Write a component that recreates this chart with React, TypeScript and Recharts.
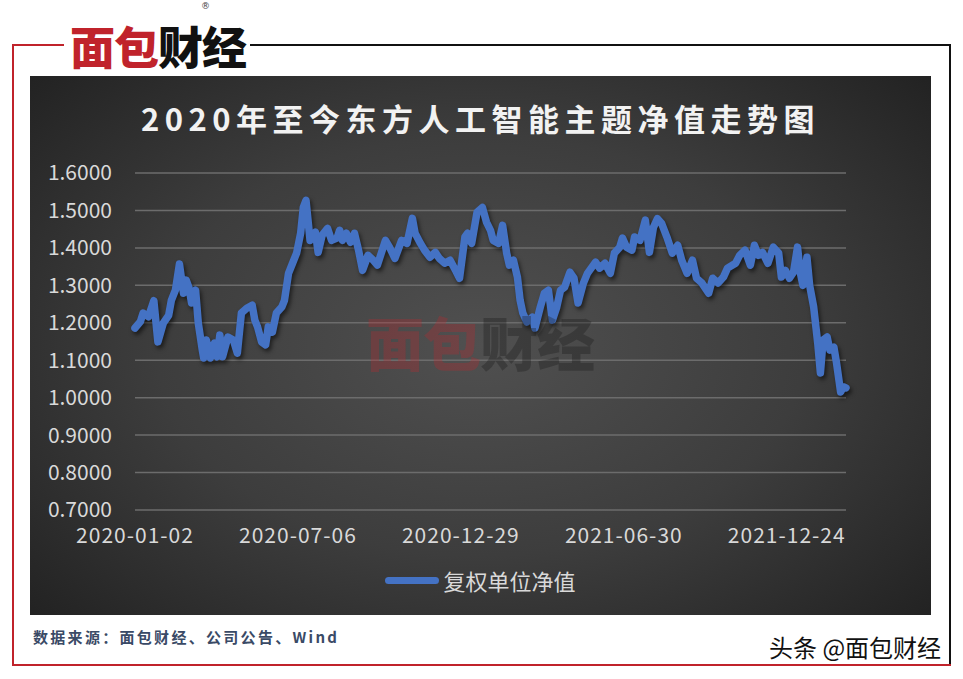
import React from 'react';
import { LineChart, Line, XAxis, YAxis, CartesianGrid, Legend } from 'recharts';

// trading-day index since 2020-01-02
const dayIndex = [
  0, 4, 6, 10, 14, 17, 21, 25, 27, 30, 33, 36, 38, 40, 42, 45, 47, 50, 51, 53,
  56, 59, 61, 63, 65, 69, 73, 76, 79, 83, 87, 89, 91, 94, 97, 99, 102, 105, 109, 111,
  114, 117, 120, 123, 125, 127, 130, 134, 136, 139, 143, 146, 150, 152, 154, 157, 160, 163, 166, 169,
  173, 177, 180, 186, 189, 193, 198, 202, 206, 208, 212, 215, 219, 223, 226, 230, 234, 238, 241, 245,
  247, 250, 254, 258, 261, 264, 266, 270, 273, 276, 278, 281, 284, 286, 288, 291, 295, 297, 301, 304,
  307, 310, 313, 316, 319, 323, 326, 329, 333, 336, 342, 345, 349, 353, 356, 360, 362, 365, 369, 371,
  375, 379, 382, 385, 388, 391, 395, 399, 403, 406, 410, 414, 417, 421, 426, 429, 433, 437, 440, 446,
  449, 453, 457, 460, 463, 466, 470, 474, 478, 480, 483, 486, 489, 492, 494, 496, 499, 501, 504, 507,
  509, 511, 514, 516, 519, 521, 524, 526, 528,
];

// 复权单位净值
const navValues = [
  1.186, 1.203, 1.226, 1.216, 1.259, 1.149, 1.199, 1.22, 1.26, 1.287, 1.357, 1.279, 1.314, 1.295, 1.253, 1.287, 1.199, 1.127, 1.106, 1.154,
  1.106, 1.146, 1.109, 1.167, 1.109, 1.162, 1.154, 1.119, 1.226, 1.239, 1.247, 1.207, 1.189, 1.149, 1.141, 1.189, 1.175, 1.226, 1.242, 1.26,
  1.332, 1.359, 1.386, 1.439, 1.508, 1.527, 1.42, 1.442, 1.388, 1.434, 1.452, 1.42, 1.426, 1.447, 1.42, 1.439, 1.415, 1.439, 1.394, 1.34,
  1.38, 1.367, 1.354, 1.42, 1.402, 1.372, 1.42, 1.412, 1.479, 1.439, 1.412, 1.394, 1.375, 1.388, 1.372, 1.359, 1.367, 1.34, 1.319, 1.429,
  1.439, 1.412, 1.495, 1.508, 1.469, 1.447, 1.42, 1.412, 1.46, 1.386, 1.354, 1.367, 1.322, 1.26, 1.226, 1.202, 1.215, 1.186, 1.242, 1.279,
  1.287, 1.207, 1.239, 1.287, 1.295, 1.335, 1.319, 1.253, 1.306, 1.332, 1.362, 1.346, 1.359, 1.332, 1.386, 1.402, 1.426, 1.402, 1.394, 1.429,
  1.42, 1.474, 1.388, 1.455, 1.478, 1.466, 1.429, 1.386, 1.407, 1.367, 1.332, 1.367, 1.319, 1.306, 1.279, 1.319, 1.306, 1.322, 1.346, 1.359,
  1.38, 1.394, 1.354, 1.407, 1.38, 1.388, 1.359, 1.402, 1.386, 1.322, 1.34, 1.319, 1.335, 1.402, 1.335, 1.3, 1.375, 1.3, 1.242, 1.146,
  1.066, 1.154, 1.162, 1.127, 1.135, 1.092, 1.015, 1.029, 1.026,
];

const tickDays = [0, 121, 242, 363, 484];
const tickLabels = ['2020-01-02', '2020-07-06', '2020-12-29', '2021-06-30', '2021-12-24'];
const yTicks = [0.7, 0.8, 0.9, 1.0, 1.1, 1.2, 1.3, 1.4, 1.5, 1.6];

const seriesName = '复权单位净值';
const titleText = '2020年至今东方人工智能主题净值走势图';

const data = dayIndex.map((d, i) => ({ day: d, nav: navValues[i] }));

const BLUE = '#4472C4';
const CJK = '"Noto Sans CJK SC", "Noto Sans", sans-serif';

const LegendBox = () => (
  <div style={{ display: 'flex', justifyContent: 'center', alignItems: 'center', height: 30 }}>
    <div style={{ width: 54, height: 7, borderRadius: 3.5, background: BLUE, marginRight: 4 }} />
    <span style={{ color: '#d9d9d9', fontSize: 22, fontFamily: CJK, lineHeight: '30px' }}>{seriesName}</span>
  </div>
);

export default function App() {
  return (
    <div style={{ position: 'absolute', left: 0, top: 0, width: 963, height: 679, background: '#fff', overflow: 'hidden' }}>
      <style>{`.navline path { filter: drop-shadow(2px 3px 2px rgba(0,0,0,0.55)); }`}</style>

      {/* frame */}
      <div style={{ position: 'absolute', left: 12, top: 44, width: 2, height: 622, background: '#c0232b' }} />
      <div style={{ position: 'absolute', left: 12, top: 44, width: 52, height: 2, background: '#c0232b' }} />
      <div style={{ position: 'absolute', left: 250, top: 44, width: 701, height: 2, background: '#111' }} />
      <div style={{ position: 'absolute', left: 949, top: 44, width: 2, height: 622, background: '#111' }} />
      <div style={{ position: 'absolute', left: 12, top: 664, width: 939, height: 2, background: '#c0232b' }} />

      {/* logo */}
      <div style={{ position: 'absolute', left: 70, top: 22, fontFamily: CJK, fontWeight: 900, fontSize: 45, lineHeight: '48px', letterSpacing: -1 }}>
        <span style={{ color: '#c0232b' }}>面包</span>
        <span style={{ color: '#111' }}>财经</span>
      </div>
      <div style={{ position: 'absolute', left: 201, top: 1, fontSize: 9, lineHeight: '10px', color: '#444', fontFamily: 'DejaVu Sans' }}>®</div>

      {/* dark panel */}
      <div
        style={{
          position: 'absolute', left: 30, top: 76, width: 901, height: 539,
          background: 'radial-gradient(ellipse 72% 78% at 50% 50%, #505050 0%, #3d3d3d 50%, #1f1f1f 100%)',
        }}
      />
      <div
        style={{
          position: 'absolute', left: 30, top: 101, width: 901, textAlign: 'center', color: '#f2f2f2',
          fontFamily: CJK, fontWeight: 700, fontSize: 31, lineHeight: '34px', letterSpacing: 5.5,
        }}
      >
        {titleText}
      </div>

      <div style={{ position: 'absolute', left: 30, top: 76 }}>
        <LineChart width={901} height={539} data={data} margin={{ top: 97, right: 85, bottom: 75, left: 25 }}>
          <CartesianGrid horizontal vertical={false} stroke="#6c6c6c" strokeWidth={1.5} />
          <XAxis
            type="number"
            dataKey="day"
            domain={[0, 528]}
            ticks={tickDays}
            tickFormatter={(v: number) => tickLabels[tickDays.indexOf(v)] ?? ''}
            axisLine={false}
            tickLine={false}
            tickSize={0}
            tickMargin={18}
            height={30}
            interval={0}
            tick={{ fill: '#d9d9d9', fontSize: 21, fontFamily: CJK, letterSpacing: 1 }}
          />
          <YAxis
            type="number"
            domain={[0.7, 1.6]}
            ticks={yTicks}
            tickFormatter={(v: number) => v.toFixed(4)}
            axisLine={false}
            tickLine={false}
            tickSize={0}
            tickMargin={23}
            width={80}
            interval={0}
            tick={{ fill: '#d9d9d9', fontSize: 21, fontFamily: CJK }}
          />
          <Legend
            layout="horizontal"
            verticalAlign="middle"
            align="center"
            wrapperStyle={{ top: 489, left: 0, width: 901 }}
            content={() => <LegendBox />}
          />
          <Line
            className="navline"
            type="linear"
            dataKey="nav"
            name={seriesName}
            stroke={BLUE}
            strokeWidth={7.5}
            strokeLinejoin="round"
            strokeLinecap="round"
            dot={false}
            activeDot={false}
            isAnimationActive={false}
          />
        </LineChart>
      </div>

      {/* watermark */}
      <div
        style={{
          position: 'absolute', left: 366, top: 306, fontFamily: CJK, fontWeight: 900, fontSize: 58,
          lineHeight: '70px', letterSpacing: -1, pointerEvents: 'none',
        }}
      >
        <span style={{ color: 'rgba(190,40,45,0.3)' }}>面包</span>
        <span style={{ color: 'rgba(20,20,20,0.3)' }}>财经</span>
      </div>

      {/* footer */}
      <div
        style={{
          position: 'absolute', left: 33, top: 627, fontFamily: CJK, fontWeight: 700, fontSize: 15,
          letterSpacing: 2.3, color: '#3a4a66', lineHeight: '20px',
        }}
      >
        数据来源：面包财经、公司公告、Wind
      </div>
      <div
        style={{
          position: 'absolute', left: 769, top: 632, fontFamily: CJK, fontSize: 24, color: '#111',
          lineHeight: '30px', textShadow: '1px 1px 0 #fff, -1px -1px 0 #fff, 1px -1px 0 #fff, -1px 1px 0 #fff',
        }}
      >
        头条 @面包财经
      </div>
    </div>
  );
}
